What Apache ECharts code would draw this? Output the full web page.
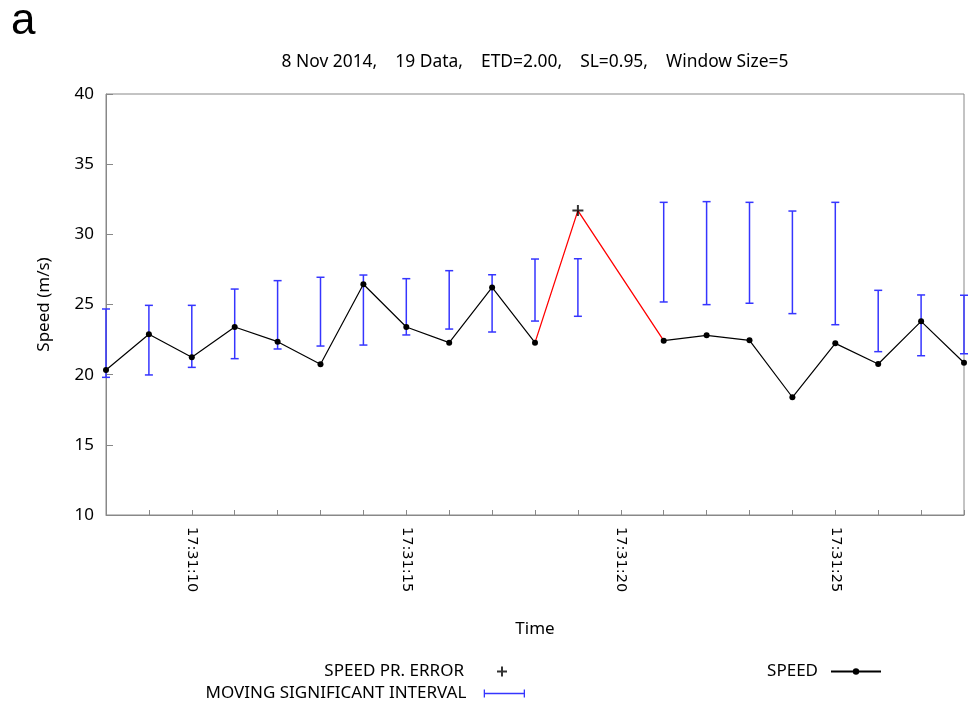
<!DOCTYPE html>
<html><head><meta charset="utf-8">
<script src="https://cdn.jsdelivr.net/npm/echarts@6/dist/echarts.min.js"></script>
<style>html,body{margin:0;padding:0;background:#fff}#c{width:970px;height:702px}</style>
</head><body><div id="c"></div>
<script>
// seconds after 17:31:00
var seconds = [8,9,10,11,12,13,14,15,16,17,18,19,21,22,23,24,25,26,27,28];
var speed = [20.33,22.88,21.24,23.40,22.35,20.74,26.44,23.40,22.28,26.22,22.28,null,22.42,22.80,22.45,18.39,22.23,20.76,23.80,20.85];
var intervalLow = [19.81,19.98,20.52,21.14,21.83,22.04,22.11,22.83,23.25,23.04,23.82,24.16,25.18,24.99,25.09,24.35,23.56,21.64,21.35,21.49];
var intervalHigh = [24.68,24.94,24.94,26.10,26.70,26.94,27.10,26.84,27.41,27.12,28.24,28.26,32.28,32.33,32.28,31.66,32.28,26.01,25.68,25.66];
var errorTime = [19];
var errorSpeed = [31.69];
var tickSeconds = [10,15,20,25];
var tickLabels = ['17:31:10','17:31:15','17:31:20','17:31:25'];

var BLUE = '#3535ff';
var FONT = '"Noto Sans", sans-serif';
var FS = 17;

var speedData = seconds.map(function(s,i){ return [s, speed[i]]; });
var intervalData = seconds.map(function(s,i){ return [s, intervalLow[i], intervalHigh[i]]; });
var errData = errorTime.map(function(s,i){ return [s, errorSpeed[i]]; });
// red connection: previous valid point -> error point -> next valid point
var ei = seconds.indexOf(errorTime[0]);
var redData = [[seconds[ei-1], speed[ei-1]], errData[0], [seconds[ei+1], speed[ei+1]]];

var chart = echarts.init(document.getElementById('c'));
chart.setOption({
  animation: false,
  backgroundColor: '#fff',
  graphic: [
    {type:'text', left: 11, top: 0, style:{text:'a', font:'44px "Liberation Sans", sans-serif', fill:'#000'}},
    {type:'text', x: 535, y: 62, style:{text:'8 Nov 2014,    19 Data,    ETD=2.00,    SL=0.95,    Window Size=5', font:'17.4px '+FONT, fill:'#000', textAlign:'center', textVerticalAlign:'middle'}}
  ],
  grid: {left:106, right:6, top:94, bottom:187, show:true, borderColor:'#888', borderWidth:1, backgroundColor:'transparent'},
  xAxis: {
    type:'value', min:8, max:28, interval:1,
    name:'Time', nameLocation:'middle', nameGap:106,
    nameTextStyle:{fontFamily:FONT, fontSize:FS, color:'#000'},
    axisLine:{lineStyle:{color:'#888'}},
    axisTick:{inside:true, length:5, lineStyle:{color:'#888'}},
    splitLine:{show:false},
    axisLabel:{
      rotate:-90, margin:12, fontFamily:'"DejaVu Sans", sans-serif', fontSize:14.5, color:'#000',
      showMinLabel:true, showMaxLabel:true,
      formatter:function(v){ var k = tickSeconds.indexOf(Math.round(v)); return k>=0 ? tickLabels[k] : ''; }
    }
  },
  yAxis: {
    type:'value', min:10, max:40, interval:5,
    name:'Speed (m/s)', nameLocation:'middle', nameGap:53,
    nameTextStyle:{fontFamily:FONT, fontSize:FS, color:'#000'},
    axisLine:{show:true, lineStyle:{color:'#888'}},
    axisTick:{show:true, inside:true, length:7, lineStyle:{color:'#888'}},
    splitLine:{show:false},
    axisLabel:{fontFamily:FONT, fontSize:FS, color:'#000', margin:12}
  },
  legend: [
    {right:457, top:658, align:'right', itemWidth:10, itemHeight:10, itemGap:0,
     textStyle:{fontFamily:FONT, fontSize:FS, color:'#000', padding:[0,28,0,0]},
     data:[{name:'SPEED PR. ERROR', icon:'path://M5,0L5,10M0,5L10,5', itemStyle:{color:'transparent', borderColor:'#000', borderWidth:2}}]},
    {right:440, top:680, align:'right', itemWidth:50, itemHeight:8, itemGap:0,
     textStyle:{fontFamily:FONT, fontSize:FS, color:'#000', padding:[0,8,0,0]},
     data:[{name:'MOVING SIGNIFICANT INTERVAL', icon:'path://M0,0L0,10M0,5L50,5M50,0L50,10', itemStyle:{color:'transparent', borderColor:BLUE, borderWidth:1.3}}]},
    {right:83, top:658, align:'right', itemWidth:50, itemHeight:8, itemGap:0,
     textStyle:{fontFamily:FONT, fontSize:FS, color:'#000', padding:[0,8,0,0]},
     data:['SPEED']}
  ],
  series: [
    {name:'MOVING SIGNIFICANT INTERVAL', type:'custom', data:intervalData, clip:false, z:2,
     itemStyle:{color:BLUE},
     renderItem:function(params, api){
       var x = api.value(0), lo = api.value(1), hi = api.value(2);
       var pLo = api.coord([x, lo]), pHi = api.coord([x, hi]);
       var cw = 4;
       var st = {stroke:BLUE, lineWidth:1.5};
       return {type:'group', children:[
         {type:'line', shape:{x1:pLo[0], y1:pLo[1], x2:pHi[0], y2:pHi[1]}, style:st},
         {type:'line', shape:{x1:pLo[0]-cw, y1:pLo[1], x2:pLo[0]+cw, y2:pLo[1]}, style:st},
         {type:'line', shape:{x1:pHi[0]-cw, y1:pHi[1], x2:pHi[0]+cw, y2:pHi[1]}, style:st}
       ]};
     }},
    {name:'error link', type:'line', data:redData, symbol:'none', z:3,
     lineStyle:{color:'#ff0000', width:1.3}, itemStyle:{color:'#ff0000'}},
    {name:'SPEED', type:'line', data:speedData, connectNulls:false, z:4,
     symbol:'circle', symbolSize:6, itemStyle:{color:'#000'}, lineStyle:{color:'#000', width:1.2}},
    {name:'SPEED PR. ERROR', type:'scatter', data:errData, z:5,
     symbol:'path://M5,0L5,10M0,5L10,5', symbolSize:11,
     itemStyle:{color:'transparent', borderColor:'#000', borderWidth:2}}
  ]
});
</script></body></html>
